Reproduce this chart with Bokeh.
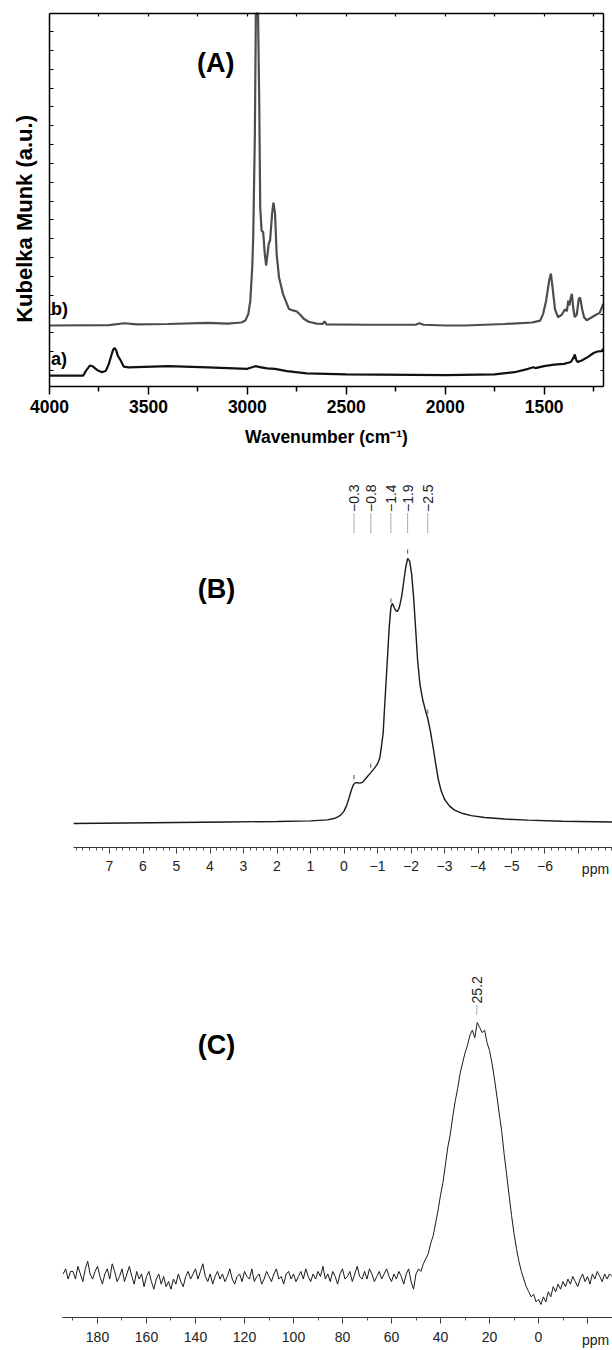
import numpy as np
from bokeh.plotting import figure
from bokeh.models import Range1d, LinearAxis, FixedTicker, Label, CustomJSTickFormatter
from bokeh.layouts import column
from bokeh.core.properties import value
from bokeh.embed import file_html
from bokeh.resources import INLINE

FONT = "Liberation Sans"

# ---------------- (A) DRIFT spectra (Kubelka-Munk vs wavenumber) ----------------
wn_a = [4000, 3830, 3815, 3795, 3780, 3760, 3735, 3715, 3700, 3685,
        3678, 3670, 3662, 3655, 3640, 3625, 3600, 3400, 3200, 3000,
        2960, 2930, 2900, 2860, 2800, 2700, 2500, 2000, 1750, 1650,
        1580, 1555, 1545, 1500, 1450, 1400, 1365, 1350, 1345, 1338,
        1330, 1310, 1280, 1250, 1230, 1210, 1200]
km_a = [2.9, 2.9, 4.2, 5.6, 5.3, 4.4, 3.8, 4.2, 6.0, 8.7,
        9.8, 10.2, 9.5, 8.2, 6.9, 5.3, 5.1, 5.4, 5.1, 4.7,
        5.4, 5.1, 4.8, 4.7, 4.1, 3.5, 3.2, 3.0, 3.2, 3.8,
        4.7, 5.1, 4.9, 5.4, 5.8, 6.0, 6.5, 7.8, 8.5, 7.1,
        6.5, 6.9, 7.8, 8.9, 9.3, 9.4, 10.0]

# the C-H stretching band of b) runs off the top of the scale
wn_b = [4000, 3700, 3620, 3560, 3400, 3200, 3100, 3030, 3010, 2995,
        2985, 2975, 2970, 2962, 2957, 2952, 2946, 2940, 2935, 2928,
        2920, 2912, 2905, 2898, 2892, 2885, 2875, 2868, 2860, 2852,
        2840, 2820, 2790, 2770, 2750, 2730, 2715, 2690, 2650, 2620,
        2610, 2600, 2400, 2150, 2130, 2110, 2000, 1900, 1700, 1560,
        1520, 1505, 1490, 1475, 1466, 1458, 1445, 1430, 1410, 1395,
        1385, 1378, 1372, 1366, 1360, 1352, 1345, 1335, 1325, 1318,
        1308, 1298, 1285, 1265, 1240, 1220, 1205, 1200]
km_b = [16.2, 16.3, 16.8, 16.5, 16.6, 16.9, 16.7, 17.0, 17.5, 19.3,
        22.8, 32.0, 40.6, 67.0, 99.0, 99.0, 99.0, 76.0, 47.6, 41.4,
        41.0, 35.3, 32.1, 35.2, 37.9, 38.8, 45.9, 48.8, 45.9, 35.2,
        29.0, 24.6, 20.6, 20.2, 19.9, 18.9, 18.0, 17.2, 16.7, 16.6,
        17.3, 16.5, 16.4, 16.4, 16.8, 16.4, 16.2, 16.2, 16.6, 17.0,
        17.5, 19.3, 22.8, 28.0, 30.0, 26.6, 20.5, 18.4, 19.1, 20.5,
        20.0, 22.8, 21.5, 23.4, 24.6, 20.5, 18.4, 19.1, 23.3, 23.6,
        20.5, 18.4, 17.6, 18.2, 19.0, 19.5, 21.5, 22.0]

wn_major = [4000, 3500, 3000, 2500, 2000, 1500]
wn_minor = [3750, 3250, 2750, 2250, 1750, 1250]
km_ticks = [4.25 + 5 * k for k in range(19)]
KM_TOP = 99.04

# ---------------- (B) 1H MAS NMR ----------------
ppm_h = [8.07, 6.5, 5.0, 3.5, 2.0, 1.0, 0.5, 0.3, 0.2, 0.1,
         0.0, -0.08, -0.15, -0.22, -0.28, -0.33, -0.4, -0.48, -0.55, -0.62,
         -0.7, -0.8, -0.9, -1.0, -1.07, -1.12, -1.17, -1.2, -1.25, -1.3,
         -1.35, -1.4, -1.44, -1.5, -1.55, -1.6, -1.65, -1.72, -1.78, -1.84,
         -1.9, -1.96, -2.02, -2.08, -2.14, -2.2, -2.27, -2.35, -2.43, -2.5,
         -2.58, -2.66, -2.74, -2.82, -2.9, -3.0, -3.15, -3.3, -3.55, -3.8,
         -4.2, -4.8, -5.5, -6.5, -8.0]
int_h = [-0.4, -0.2, 0.0, 0.2, 0.4, 0.6, 1.0, 1.5, 2.0, 2.8,
         4.3, 6.5, 9.3, 12.3, 14.3, 15.0, 15.1, 14.9, 15.2, 16.2,
         17.4, 18.9, 20.4, 22.2, 24.5, 29.0, 34.0, 41.0, 52.0, 63.0,
         74.0, 81.5, 83.0, 81.4, 80.2, 80.0, 81.4, 85.5, 91.0, 96.5,
         100.0, 99.0, 94.0, 85.0, 73.0, 61.0, 52.0, 46.5, 42.5, 39.4,
         34.5, 28.5, 22.0, 16.0, 12.0, 8.8, 6.2, 4.7, 3.4, 2.6,
         1.9, 1.3, 0.9, 0.5, 0.2]
peaks_h = [-0.3, -0.8, -1.4, -1.9, -2.5]

# ---------------- (C) 13C CP MAS NMR, one point per ppm from 194 to -30 ----------------
ppm_c = list(range(194, -31, -1))
int_c = [1, 3, -1, 2,
         2, -1, 4, 1, -2, 3, 6, 1, -1, 2,
         4, 0, -3, 1, 3, -1, 5, 2, -2, 0,
         3, -2, 1, 4, 0, -3, 2, -1, 1, -4,
         0, 2, -2, -5, -1, 1, -3, 0, -4, -2,
         -5, -1, -3, 1, -2, -4, 0, 2, -1, 1,
         3, -1, 2, 5, 0, -2, 1, -3, 0, 2,
         -1, 1, -2, 0, 3, -1, -3, 0, 1, -2,
         2, 0, -1, 3, -2, 0, 1, -3, -1, 2,
         0, -2, 1, 3, -1, 0, -3, 1, 2, -1,
         1, -2, 0, 2, -1, 3, 0, -2, 1, -1,
         2, 0, 4, -1, 1, -2, 2, 0, -3, 1,
         3, -1, 0, 2, -2, 1, 4, 0, -1, 2,
         -1, 3, 1, -2, 0, 2, -1, 1, 3, 0,
         -2, 1, -1, 2, 0, -3, 1, 3, -2, -5,
         1, 3, 2, 5, 7, 9, 13, 16, 21, 26,
         32, 37, 44, 51, 56, 63, 69, 74, 80, 84,
         88, 91, 95, 97, 94, 100, 98, 96, 97, 92,
         89, 84, 78, 71, 64, 57, 48, 40, 32, 24,
         17, 11, 6, 2, -1, -4, -6, -8, -7, -10,
         -9, -11, -8, -10, -6, -8, -4, -6, -3, -5,
         -2, -4, -1, -3, 0, -2, -4, -1, 1, -2,
         0, -3, 1, -1, 2, 0, -2, 1, -1, 1,
         0]
peaks_c = [25.2]

blank = CustomJSTickFormatter(code="return ''")
nmr_fmt = CustomJSTickFormatter(code="""
    if (index == ticks.length - 1) { return ''; }
    return tick < 0 ? '\u2212' + Math.abs(tick) : String(tick);
""")


def make_fig(h, xr, yr, **kw):
    # the frame fills the whole canvas; axes are pinned with fixed_location
    p = figure(width=612, height=h, x_range=xr, y_range=yr, title=None,
               output_backend="svg", toolbar_location=None,
               min_border_left=0, min_border_right=0,
               min_border_top=0, min_border_bottom=0, **kw)
    p.xgrid.visible = False
    p.ygrid.visible = False
    p.outline_line_color = None
    p.background_fill_color = "white"
    p.border_fill_color = "white"
    return p


def label(p, x, y, text, size, bold=False, align="center", angle=0.0, color="black"):
    p.add_layout(Label(x=x, y=y, text=text, text_font=FONT,
                       text_font_style="bold" if bold else "normal",
                       text_font_size=size, text_align=align, text_baseline="middle",
                       text_color=color, angle=angle))


def box_axis(ax, ticks, bounds, tick_in, loc):
    ax.ticker = FixedTicker(ticks=ticks)
    ax.formatter = blank
    ax.major_label_text_font_size = "0px"
    ax.major_label_standoff = 0
    ax.major_tick_in = tick_in
    ax.major_tick_out = 0
    ax.minor_tick_line_color = None
    ax.axis_line_width = 1.5
    ax.axis_line_color = "black"
    ax.major_tick_line_color = "black"
    ax.major_tick_line_width = 1.2
    ax.bounds = bounds
    ax.fixed_location = loc


# ---------- panel A ----------
pa = make_fig(450, Range1d(4247.6, 1154.5), Range1d(-16.99, 102.49))

xa = pa.xaxis[0]
xa.ticker = FixedTicker(ticks=wn_major, minor_ticks=wn_minor)
xa.fixed_location = 0
xa.bounds = (1200, 4000)
xa.axis_line_width = 1.5
xa.axis_line_color = "black"
xa.major_tick_line_color = "black"
xa.minor_tick_line_color = "black"
xa.major_tick_line_width = 1.5
xa.minor_tick_line_width = 1.5
xa.major_tick_in = 0
xa.major_tick_out = 8
xa.minor_tick_in = 0
xa.minor_tick_out = 5
xa.major_label_text_font = FONT
xa.major_label_text_font_style = "bold"
xa.major_label_text_font_size = "17.5px"
xa.major_label_text_color = "black"
xa.major_label_standoff = 5

box_axis(pa.yaxis[0], km_ticks, (0, KM_TOP), 4, 4000)
top_ax = LinearAxis()
box_axis(top_ax, wn_major[1:] + wn_minor, (1200, 4000), 3, KM_TOP)
right_ax = LinearAxis()
box_axis(right_ax, km_ticks, (0, KM_TOP), 3, 1200)
pa.add_layout(top_ax, "above")
pa.add_layout(right_ax, "right")

pa.line(wn_b, km_b, line_color="#4d4d4d", line_width=2.2)
pa.line(wn_a, km_a, line_color="#111111", line_width=2.2)

label(pa, 3160, 86.0, "(A)", "27px", bold=True)
label(pa, 3992, 20.7, "b)", "18px", bold=True, align="left")
label(pa, 3992, 7.2, "a)", "18px", bold=True, align="left")
label(pa, 2600, -13.5, "Wavenumber (cm\u207b\u00b9)", "17.5px", bold=True)
label(pa, 4126, 44.5, "Kubelka Munk (a.u.)", "22px", bold=True, angle=np.pi / 2)


def nmr_axis(p, major, minor, bounds, loc):
    ax = p.xaxis[0]
    ax.ticker = FixedTicker(ticks=major, minor_ticks=minor)
    ax.formatter = nmr_fmt
    ax.fixed_location = loc
    ax.bounds = bounds
    ax.axis_line_color = "#333333"
    ax.axis_line_width = 1
    ax.major_tick_line_color = "#333333"
    ax.minor_tick_line_color = "#555555"
    ax.major_tick_in = 0
    ax.major_tick_out = 6
    ax.minor_tick_in = 0
    ax.minor_tick_out = 3
    ax.major_label_text_font = FONT
    ax.major_label_text_font_size = "14px"
    ax.major_label_text_color = "#222222"
    ax.major_label_standoff = 8


def peak_marks(p, xs, ppm, inten, lead0, lead1, txt_y, tick_gap, tick_len):
    xs = list(xs)
    yk = np.interp(-np.array(xs), -np.array(ppm, dtype=float), np.array(inten, dtype=float))
    labels = [("\u2212" if v < 0 else "") + f"{abs(v):.1f}" for v in xs]
    if tick_len > 0:
        p.segment(x0=xs, y0=yk + tick_gap, x1=xs, y1=yk + tick_gap + tick_len,
                  line_color="#555555", line_width=1)
    p.segment(x0=xs, y0=[lead0] * len(xs), x1=xs, y1=[lead1] * len(xs),
              line_color="#555555", line_width=1, line_dash="1 1")
    p.text(x=xs, y=[txt_y] * len(xs), text=labels, angle=np.pi / 2,
           text_font=value(FONT), text_font_size=value("14px"), text_color="#222222",
           text_align="left", text_baseline="middle")


# ---------- panel B ----------
pb = make_fig(455, Range1d(10.254, -8.015), Range1d(-31.44, 140.91), y_axis_location=None)
nmr_axis(pb, list(range(7, -8, -1)), [round(8.0 - 0.2 * k, 1) for k in range(81)],
         (-8.015, 8.075), -9.47)
pb.line(ppm_h, int_h, line_color="#1a1a1a", line_width=1.4)
peak_marks(pb, peaks_h, ppm_h, int_h, 109.8, 117.0, 117.6, 1.8, 1.6)
label(pb, 3.806, 88.6, "(B)", "27px", bold=True)
label(pb, -7.507, -17.8, "ppm", "14px", color="#222222")

# ---------- panel C ----------
pc = make_fig(445, Range1d(219.59, -30.20), Range1d(-29.13, 146.06), y_axis_location=None)
nmr_axis(pc, list(range(180, -21, -20)), list(range(190, -31, -10)), (-30.20, 194.29), -16.14)
pc.line(ppm_c, int_c, line_color="#1a1a1a", line_width=1)
peak_marks(pc, peaks_c, ppm_c, int_c, 103.1, 107.1, 107.5, 3.0, 0.0)
label(pc, 131.4, 91.3, "(C)", "27px", bold=True)
label(pc, -23.27, -24.8, "ppm", "14px", color="#222222")

layout = column(pa, pb, pc, spacing=0)
open("out.html", "w").write(file_html(layout, INLINE))
